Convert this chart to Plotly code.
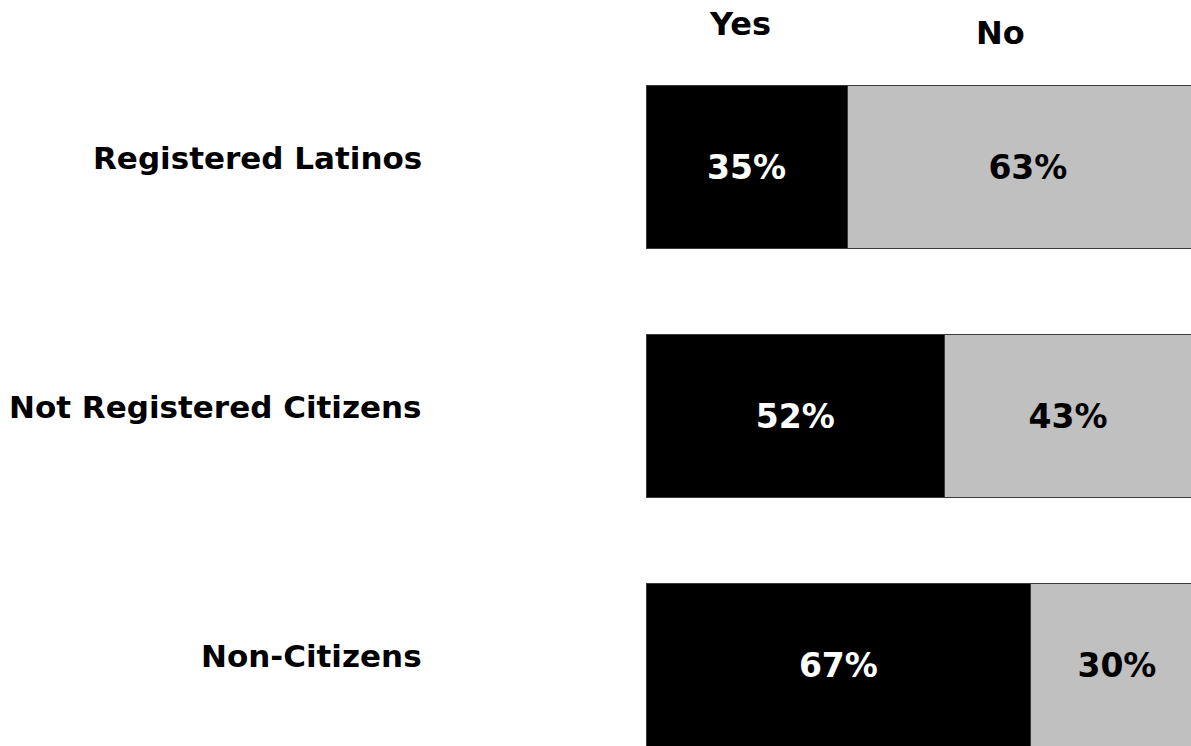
import plotly.graph_objects as go

groups = ["Registered Latinos", "Not Registered Citizens", "Non-Citizens"]
yes_vals = [35, 52, 67]
no_vals = [63, 43, 30]
series_names = ["Yes", "No"]

FONT = "DejaVu Sans, Liberation Sans, Arial, sans-serif"

fig = go.Figure()
fig.add_trace(go.Bar(
    y=groups, x=yes_vals, orientation="h", name=series_names[0],
    marker=dict(color="#000000", line=dict(color="#3a3a3a", width=1)),
    text=[f"<b>{v}%</b>" for v in yes_vals], textposition="inside",
    insidetextanchor="middle", constraintext="none",
    textfont=dict(family=FONT, size=33, color="#ffffff"),
    width=0.655, hoverinfo="skip",
))
fig.add_trace(go.Bar(
    y=groups, x=no_vals, orientation="h", name=series_names[1],
    marker=dict(color="#c0c0c0", line=dict(color="#3a3a3a", width=1)),
    text=[f"<b>{v}%</b>" for v in no_vals], textposition="inside",
    insidetextanchor="middle", constraintext="none",
    textfont=dict(family=FONT, size=33, color="#000000"),
    width=0.655, hoverinfo="skip",
))

W, H = 1191, 746
left_px = 646
annotations = []
for g in groups:
    annotations.append(dict(
        x=424 / W, xref="paper", y=g, yref="y", xanchor="right", yanchor="middle",
        text=f"<b>{g}</b>", showarrow=False, yshift=9,
        font=dict(family=FONT, size=31, color="#000000"),
    ))
annotations.append(dict(x=740 / W, xref="paper", y=1 - 24 / H, yref="paper",
                        xanchor="center", yanchor="middle", text=f"<b>{series_names[0]}</b>",
                        showarrow=False, font=dict(family=FONT, size=32, color="#000000")))
annotations.append(dict(x=1000 / W, xref="paper", y=1 - 33 / H, yref="paper",
                        xanchor="center", yanchor="middle", text=f"<b>{series_names[1]}</b>",
                        showarrow=False, font=dict(family=FONT, size=32, color="#000000")))

fig.update_layout(
    width=W, height=H,
    barmode="stack",
    showlegend=False,
    plot_bgcolor="#ffffff", paper_bgcolor="#ffffff",
    margin=dict(l=0, r=0, t=0, b=0),
    xaxis=dict(domain=[left_px / W, 1], range=[0, 94.9], visible=False, fixedrange=True),
    yaxis=dict(type="category", categoryorder="array", categoryarray=groups,
               range=[2.325, -0.671], visible=False, fixedrange=True),
    annotations=annotations,
)

fig.write_html("out.html", config={"displayModeBar": False},
               post_script="document.body.style.margin='0';document.body.style.overflow='hidden';")
